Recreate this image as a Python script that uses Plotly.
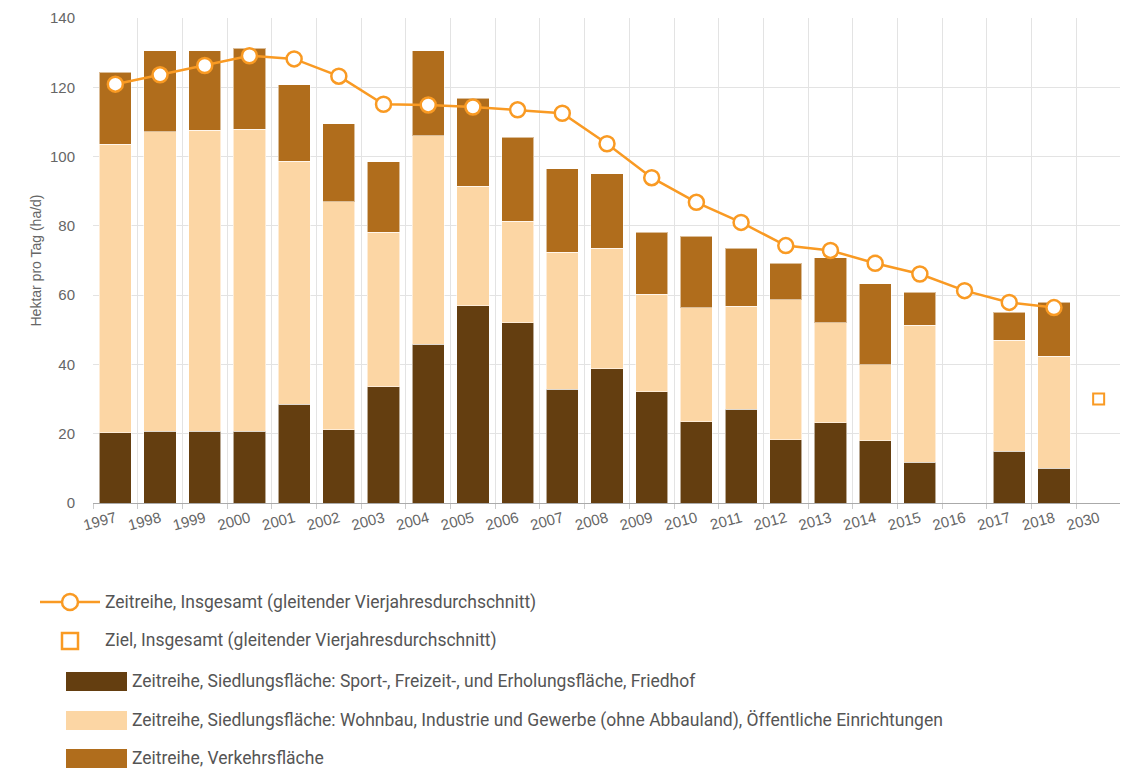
import plotly.graph_objects as go

# ---------------- data ----------------
categories = ["1997", "1998", "1999", "2000", "2001", "2002", "2003", "2004", "2005",
              "2006", "2007", "2008", "2009", "2010", "2011", "2012", "2013", "2014",
              "2015", "2016", "2017", "2018", "2030"]

bar_years = categories[:22]

# Siedlungsfläche: Sport-, Freizeit-, Erholungsfläche, Friedhof (dark)
sport = [20.3, 20.7, 20.7, 20.7, 28.5, 21.2, 33.6, 45.8, 57.0, 52.0, 32.9,
         38.8, 32.1, 23.4, 27.0, 18.3, 23.1, 18.0, 11.8, None, 14.9, 10.1]
# Siedlungsfläche: Wohnbau, Industrie und Gewerbe, öffentliche Einrichtungen (light)
wohnbau = [83.3, 86.5, 86.9, 87.2, 70.1, 65.7, 44.6, 60.2, 34.5, 29.4, 39.5,
           34.7, 28.2, 33.0, 29.8, 40.4, 28.9, 21.9, 39.5, None, 32.1, 32.2]
# Verkehrsfläche (mid brown)
verkehr = [20.8, 23.4, 23.0, 23.4, 22.2, 22.6, 20.3, 24.6, 25.4, 24.2, 24.1,
           21.6, 17.9, 20.6, 16.7, 10.5, 18.8, 23.4, 9.6, None, 8.1, 15.6]
# Insgesamt (gleitender Vierjahresdurchschnitt)
insgesamt = [120.9, 123.6, 126.3, 129.1, 128.2, 123.2, 115.1, 114.9, 114.3,
             113.5, 112.5, 103.7, 93.9, 86.8, 81.0, 74.3, 72.9, 69.2, 66.1,
             61.3, 57.9, 56.4]
# Ziel 2030
ziel_x = ["2030"]
ziel_y = [30]

series_names = [
    "Zeitreihe, Insgesamt (gleitender Vierjahresdurchschnitt)",
    "Ziel, Insgesamt (gleitender Vierjahresdurchschnitt)",
    "Zeitreihe, Siedlungsfläche: Sport-, Freizeit-, und Erholungsfläche, Friedhof",
    "Zeitreihe, Siedlungsfläche: Wohnbau, Industrie und Gewerbe (ohne Abbauland), Öffentliche Einrichtungen",
    "Zeitreihe, Verkehrsfläche",
]

C_DARK = "#643e10"
C_LIGHT = "#fcd6a4"
C_MID = "#b06d1c"
C_ORANGE = "#f99a23"
AX_FONT = "Liberation Sans, Arial, sans-serif"
LG_FONT = "Roboto"

fig = go.Figure()

for vals, col, name in [(sport, C_DARK, series_names[2]),
                        (wohnbau, C_LIGHT, series_names[3]),
                        (verkehr, C_MID, series_names[4])]:
    fig.add_trace(go.Bar(x=bar_years, y=vals, name=name, marker_color=col,
                         marker_line=dict(color="rgba(255,255,255,0.55)", width=1),
                         showlegend=False))

fig.add_trace(go.Scatter(x=bar_years, y=insgesamt, mode="lines+markers",
                         name=series_names[0], showlegend=False,
                         line=dict(color=C_ORANGE, width=2.5),
                         marker=dict(size=15, color="white",
                                     line=dict(color=C_ORANGE, width=2.5))))
fig.add_trace(go.Scatter(x=ziel_x, y=ziel_y, mode="markers", name=series_names[1],
                         showlegend=False,
                         marker=dict(symbol="square-open", size=11,
                                     color=C_ORANGE, line=dict(width=2))))

# ---------------- layout ----------------
OFF = 8  # page body margin
W, H = 1120, 761
L, T = 93 - OFF, 18 - OFF
PW, PH = 1028, 485
R = W - L - PW
B = H - T - PH


def px(xr):
    # reference screen x -> paper
    return (xr - OFF - L) / PW


def py(yr):
    # reference screen y -> paper
    return (T + PH - (yr - OFF)) / PH


fig.update_layout(
    width=W, height=H,
    margin=dict(l=L, r=R, t=T, b=B, autoexpand=False),
    plot_bgcolor="white", paper_bgcolor="white",
    barmode="stack", bargap=0.28,
    font=dict(family=AX_FONT, color="#666666"),
    xaxis=dict(type="category", categoryorder="array", categoryarray=categories,
               range=[-0.5, 22.5], tickson="boundaries", showgrid=True,
               automargin=False,
               gridcolor="#e3e3e3", gridwidth=1, showline=True, linecolor="#aaaaaa",
               linewidth=1, ticks="outside", ticklen=5, tickcolor="#cccccc",
               tickangle=-15, tickfont=dict(family=AX_FONT, size=15, color="#666666")),
    yaxis=dict(range=[0, 140], dtick=20, showgrid=True, gridcolor="#e3e3e3",
               automargin=False,
               zeroline=False, ticks="outside", ticklen=14,
               tickcolor="rgba(255,255,255,0)",
               tickfont=dict(family=AX_FONT, size=15, color="#666666"),
               title=dict(text="Hektar pro Tag (ha/d)", standoff=5,
                          font=dict(family=AX_FONT, size=14, color="#666666"))),
    hovermode="closest",
)

# ---------------- custom legend ----------------
shapes = []
annos = []
TXT = dict(family=LG_FONT, size=17.5, color="#555555")

# row 1: line with circle marker
y1 = 602
shapes.append(dict(type="line", xref="paper", yref="paper",
                   x0=px(40), x1=px(100), y0=py(y1), y1=py(y1),
                   line=dict(color=C_ORANGE, width=2.5)))
shapes.append(dict(type="circle", xref="paper", yref="paper",
                   x0=px(62), x1=px(78), y0=py(y1 + 8), y1=py(y1 - 8),
                   fillcolor="white", line=dict(color=C_ORANGE, width=2.5)))
annos.append(dict(text=series_names[0], x=px(103), y=py(y1)))

# row 2: open square
y2 = 641
shapes.append(dict(type="rect", xref="paper", yref="paper",
                   x0=px(62), x1=px(78), y0=py(y2 + 8), y1=py(y2 - 8),
                   fillcolor="white", line=dict(color=C_ORANGE, width=2.5)))
annos.append(dict(text=series_names[1], x=px(103), y=py(y2 - 1)))

# rows 3-5: bar swatches
for yy, col, nm in [(681, C_DARK, series_names[2]),
                    (720, C_LIGHT, series_names[3]),
                    (758, C_MID, series_names[4])]:
    shapes.append(dict(type="rect", xref="paper", yref="paper",
                       x0=px(66), x1=px(127), y0=py(yy + 10), y1=py(yy - 9),
                       fillcolor=col, line=dict(width=0)))
    annos.append(dict(text=nm, x=px(130), y=py(yy)))

fig.update_layout(shapes=shapes)
for a in annos:
    fig.add_annotation(text=a["text"], x=a["x"], y=a["y"], xref="paper", yref="paper",
                       xanchor="left", yanchor="middle", showarrow=False, font=TXT)

fig.write_html("out.html")
